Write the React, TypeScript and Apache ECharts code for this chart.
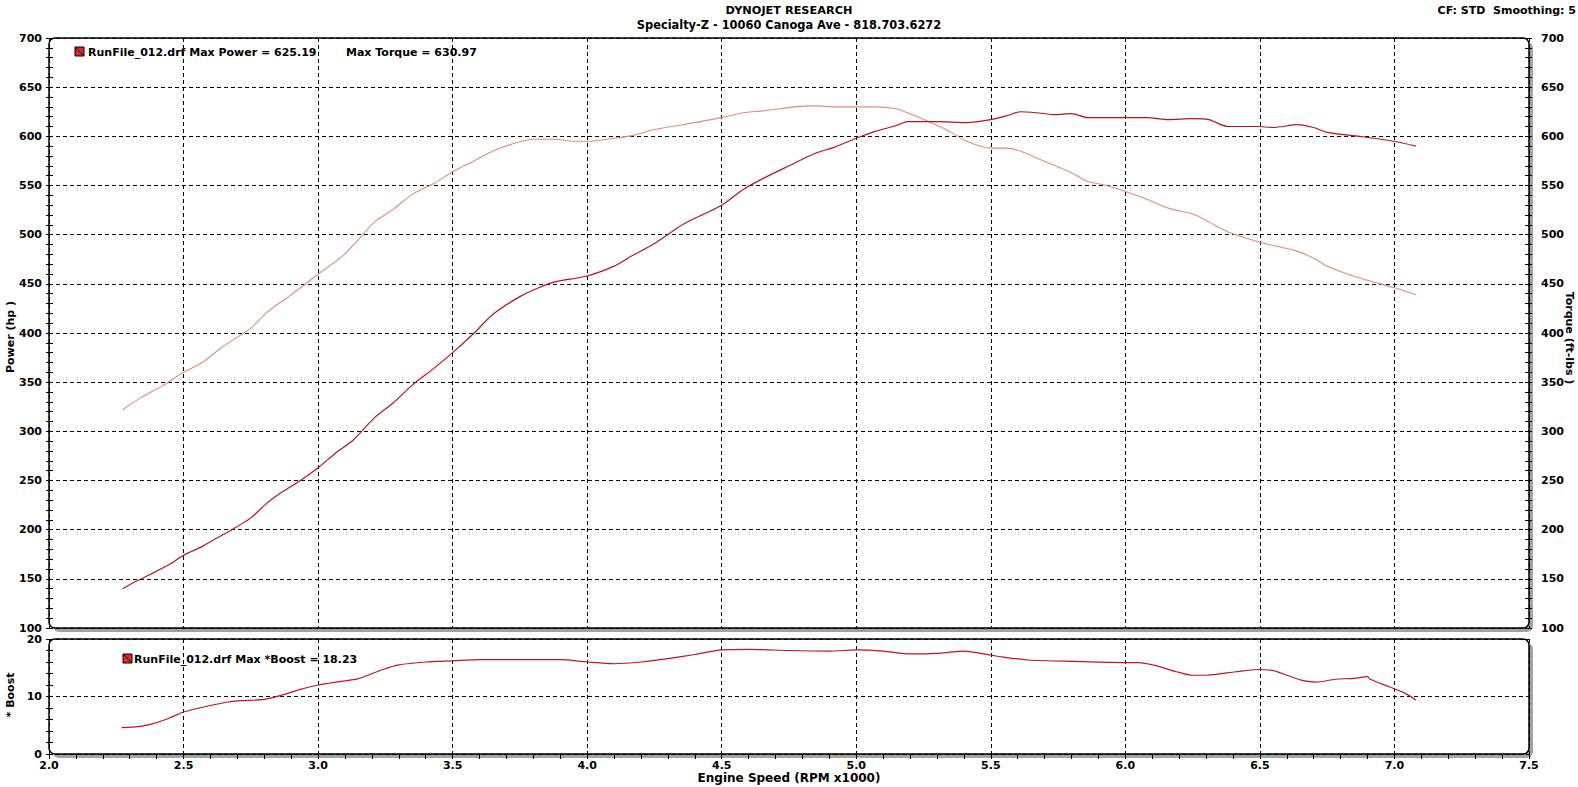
import React, { useEffect, useRef } from "react";
import * as echarts from "echarts";

const RPM_POWER = [2.274, 2.32, 2.38, 2.45, 2.5, 2.57, 2.62, 2.68, 2.75, 2.81, 2.87, 2.94, 3.0, 3.07, 3.13, 3.21, 3.28, 3.35, 3.43, 3.5, 3.58, 3.65, 3.75, 3.82, 3.88, 4.0, 4.1, 4.17, 4.25, 4.36, 4.5, 4.58, 4.66, 4.75, 4.85, 4.92, 5.0, 5.07, 5.15, 5.19, 5.3, 5.41, 5.5, 5.56, 5.61, 5.67, 5.74, 5.8, 5.86, 5.93, 6.0, 6.08, 6.16, 6.25, 6.31, 6.38, 6.49, 6.55, 6.64, 6.7, 6.75, 6.87, 7.0, 7.08];
const POWER = [140, 147, 155, 165, 174, 183, 191, 200, 212, 227, 239, 251, 263, 279, 291, 314, 329, 347, 364, 380, 400, 419, 437, 446, 452, 458, 468, 479, 491, 511, 530, 546, 558, 570, 583, 589, 598, 605, 611, 615, 615, 614, 617, 621, 625, 624, 622, 623, 619, 619, 619, 619, 617, 618, 617, 610, 610, 609, 612, 609, 604, 600, 595, 590];

const RPM_TORQUE = [2.274, 2.34, 2.42, 2.5, 2.57, 2.64, 2.75, 2.81, 2.87, 2.94, 3.0, 3.09, 3.15, 3.21, 3.28, 3.35, 3.43, 3.5, 3.58, 3.65, 3.73, 3.8, 3.88, 3.95, 4.0, 4.1, 4.17, 4.25, 4.36, 4.5, 4.58, 4.66, 4.77, 4.85, 4.92, 5.0, 5.07, 5.15, 5.19, 5.26, 5.34, 5.41, 5.5, 5.56, 5.61, 5.67, 5.74, 5.8, 5.86, 5.93, 6.0, 6.08, 6.16, 6.25, 6.31, 6.38, 6.49, 6.55, 6.64, 6.7, 6.75, 6.87, 7.0, 7.08];
const TORQUE = [322, 334, 346, 360, 370, 385, 405, 421, 433, 447, 460, 478, 495, 513, 526, 541, 552, 564, 575, 585, 593, 597, 597, 595, 595, 598, 601, 607, 612, 619, 624, 626, 630, 631, 630, 630, 630, 628, 624, 616, 606, 595, 588, 588, 585, 578, 570, 563, 554, 550, 544, 536, 527, 521, 513, 503, 493, 489, 483, 476, 468, 456, 446, 439];

const RPM_BOOST = [2.27, 2.33, 2.38, 2.41, 2.45, 2.5, 2.59, 2.66, 2.71, 2.8, 2.87, 2.93, 3.0, 3.08, 3.15, 3.24, 3.3, 3.4, 3.5, 3.6, 3.75, 3.9, 4.0, 4.1, 4.2, 4.3, 4.4, 4.5, 4.6, 4.75, 4.9, 5.0, 5.1, 5.2, 5.3, 5.4, 5.5, 5.54, 5.64, 5.81, 6.0, 6.05, 6.11, 6.19, 6.25, 6.3, 6.41, 6.49, 6.55, 6.6, 6.66, 6.71, 6.78, 6.85, 6.9, 6.91, 6.98, 7.04, 7.08];
const BOOST = [4.6, 4.75, 5.2, 5.6, 6.3, 7.3, 8.35, 9.0, 9.27, 9.5, 10.3, 11.2, 12.0, 12.6, 13.1, 14.7, 15.5, 16.0, 16.2, 16.4, 16.4, 16.4, 16.0, 15.7, 16.0, 16.6, 17.3, 18.1, 18.2, 18.0, 17.9, 18.1, 17.9, 17.4, 17.5, 17.9, 17.2, 16.9, 16.35, 16.1, 15.9, 15.9, 15.4, 14.3, 13.7, 13.7, 14.3, 14.7, 14.5, 13.7, 12.75, 12.5, 13.0, 13.15, 13.45, 13.0, 11.7, 10.55, 9.4];

const TITLE_1 = "DYNOJET RESEARCH";
const TITLE_2 = "Specialty-Z - 10060 Canoga Ave - 818.703.6272";
const CORNER_TEXT = "CF: STD\u00a0\u00a0Smoothing: 5";
const LEGEND_POWER = "RunFile_012.drf Max Power = 625.19";
const LEGEND_TORQUE = "Max Torque = 630.97";
const LEGEND_BOOST = "RunFile_012.drf Max *Boost = 18.23";
const NAME_POWER = "Power (hp\u00a0)";
const NAME_TORQUE = "Torque (ft-lbs\u00a0)";
const NAME_BOOST = "*\u00a0Boost";
const NAME_RPM = "Engine Speed (RPM x1000)";

const FONT = "'DejaVu Sans', Verdana, sans-serif";
const LEFT = 49;
const WIDTH = 1480;
const TOP1 = 38;
const H1 = 590;
const TOP2 = 639;
const H2 = 115;

const POWER_COLOR = "#b8141c";
const TORQUE_COLOR = "#e6878c";
const BOOST_COLOR = "#c0161e";

function pairs(xs: number[], ys: number[]) {
  return xs.map((x, i) => [x, ys[i]]);
}

function icon(x: number, y: number) {
  return [
    { type: "rect", z: 60, shape: { x, y, width: 9, height: 9 }, style: { fill: "#e3262d", stroke: "#000", lineWidth: 1 } },
    { type: "line", z: 61, shape: { x1: x + 1, y1: y + 1, x2: x + 9, y2: y + 9 }, style: { stroke: "#000", lineWidth: 1 } },
  ];
}

function txt(x: number, y: number, text: string, align = "left", size = 11, extra: any = {}) {
  return {
    type: "text",
    z: 60,
    x,
    y,
    ...extra,
    style: { text, x: 0, y: 0, fill: "#000", font: `bold ${size}px ${FONT}`, align, verticalAlign: "middle" },
  };
}

function frame(top: number, h: number) {
  return [
    { type: "rect", z: 0, shape: { x: LEFT + 4, y: top + 4, width: WIDTH, height: h, r: 6 }, style: { fill: "#a3a3a3" } },
    { type: "rect", z: 1, shape: { x: LEFT, y: top, width: WIDTH, height: h, r: 6 }, style: { fill: "#fff" } },
    { type: "rect", z: 50, shape: { x: LEFT, y: top, width: WIDTH, height: h, r: 6 }, style: { fill: "none", stroke: "#000", lineWidth: 1.5 } },
  ];
}

const labelStyle = { color: "#000", fontFamily: FONT, fontWeight: "bold", fontSize: 11 };
const dashed = { show: true, lineStyle: { color: "#000", width: 1, type: [4, 3] } };

function yAx(gridIndex: number, position: string, min: number, max: number, interval: number, opts: any) {
  return {
    type: "value",
    gridIndex,
    position,
    min,
    max,
    interval,
    z: 5,
    axisLine: { show: false },
    axisTick: { show: true, inside: opts.inside, length: opts.len, lineStyle: { color: "#000", width: 1 } },
    minorTick: { show: true, splitNumber: opts.minorSplit, length: opts.len, lineStyle: { color: "#000", width: 1 } },
    axisLabel: opts.labels
      ? { show: true, ...labelStyle, margin: opts.margin, showMinLabel: true, showMaxLabel: true }
      : { show: false },
    splitLine: opts.split ? dashed : { show: false },
  };
}

export default function App() {
  const ref = useRef<HTMLDivElement>(null);
  useEffect(() => {
    if (!ref.current) return;
    const chart = echarts.init(ref.current, null, { renderer: "svg" });
    const option: any = {
      animation: false,
      backgroundColor: "#fff",
      grid: [
        { left: LEFT, top: TOP1, width: WIDTH, height: H1 },
        { left: LEFT, top: TOP2, width: WIDTH, height: H2 },
      ],
      xAxis: [
        {
          type: "value", gridIndex: 0, min: 2, max: 7.5, interval: 0.5, z: 5,
          axisLine: { show: false }, axisTick: { show: false }, axisLabel: { show: false },
          splitLine: dashed,
        },
        {
          type: "value", gridIndex: 1, min: 2, max: 7.5, interval: 0.5, z: 5,
          axisLine: { show: false },
          axisTick: { show: true, length: 5, lineStyle: { color: "#000", width: 1 } },
          minorTick: { show: true, splitNumber: 5, length: 5, lineStyle: { color: "#000", width: 1 } },
          axisLabel: { ...labelStyle, margin: 6, showMinLabel: true, showMaxLabel: true, formatter: (v: number) => v.toFixed(1) },
          splitLine: dashed,
        },
      ],
      yAxis: [
        yAx(0, "left", 100, 700, 50, { inside: false, len: 3, minorSplit: 5, labels: true, margin: 7, split: true }),
        yAx(0, "right", 100, 700, 50, { inside: false, len: 3, minorSplit: 5, labels: true, margin: 12, split: false }),
        yAx(0, "left", 100, 700, 50, { inside: true, len: 4, minorSplit: 5, labels: false, split: false }),
        yAx(0, "right", 100, 700, 50, { inside: true, len: 4, minorSplit: 5, labels: false, split: false }),
        yAx(1, "left", 0, 20, 10, { inside: false, len: 3, minorSplit: 5, labels: true, margin: 7, split: true }),
        yAx(1, "left", 0, 20, 10, { inside: true, len: 4, minorSplit: 5, labels: false, split: false }),
      ],
      series: [
        {
          type: "line", xAxisIndex: 0, yAxisIndex: 1, z: 10, showSymbol: false, symbol: "none", smooth: 0.25,
          data: pairs(RPM_TORQUE, TORQUE), lineStyle: { color: TORQUE_COLOR, width: 1.1 },
        },
        {
          type: "line", xAxisIndex: 0, yAxisIndex: 0, z: 11, showSymbol: false, symbol: "none", smooth: 0.25,
          data: pairs(RPM_POWER, POWER), lineStyle: { color: POWER_COLOR, width: 1.2 },
        },
        {
          type: "line", xAxisIndex: 1, yAxisIndex: 4, z: 11, showSymbol: false, symbol: "none", smooth: 0.25,
          data: pairs(RPM_BOOST, BOOST), lineStyle: { color: BOOST_COLOR, width: 1.2 },
        },
      ],
      graphic: {
        elements: [
          ...frame(TOP1, H1),
          ...frame(TOP2, H2),
          txt(789, 10, TITLE_1, "center", 11.3),
          txt(789, 25, TITLE_2, "center", 11.4),
          txt(1576, 10, CORNER_TEXT, "right"),
          ...icon(75, 47),
          txt(88, 52, LEGEND_POWER),
          txt(346, 52, LEGEND_TORQUE),
          ...icon(123, 654),
          txt(134, 659, LEGEND_BOOST),
          txt(10, 337, NAME_POWER, "center", 11, { rotation: Math.PI / 2 }),
          txt(1569, 338, NAME_TORQUE, "center", 11, { rotation: -Math.PI / 2 }),
          txt(10, 695, NAME_BOOST, "center", 11, { rotation: Math.PI / 2 }),
          txt(789, 778, NAME_RPM, "center", 12),
        ],
      },
    };
    chart.setOption(option);
    return () => chart.dispose();
  }, []);
  return <div ref={ref} style={{ position: "fixed", left: 0, top: 0, width: 1578, height: 787 }} />;
}
